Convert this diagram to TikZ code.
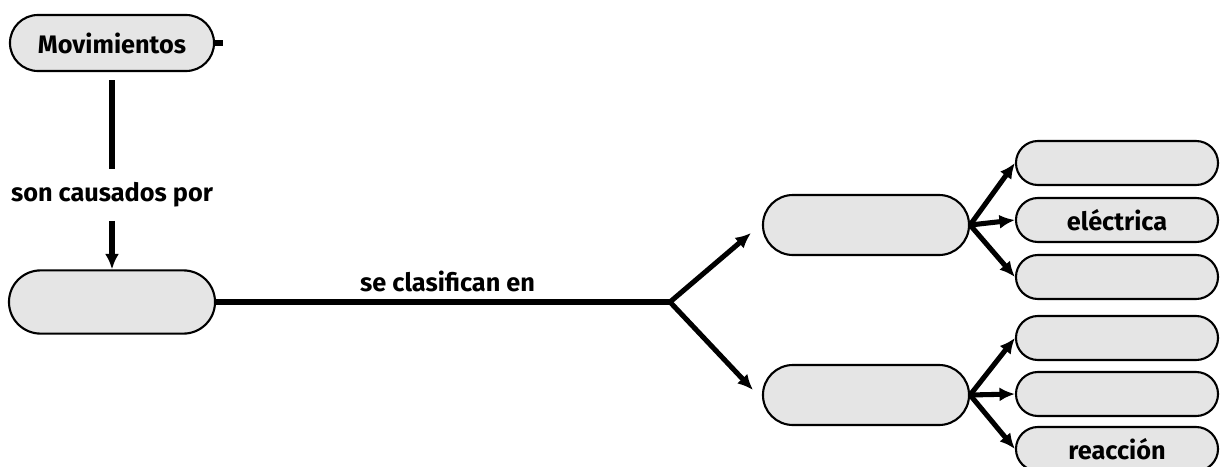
\documentclass[tikz,border=0pt]{standalone}
\usepackage{fontspec}
\setmainfont{Fira Sans}
\usetikzlibrary{arrows.meta, shapes.misc}
\tikzset{concept/.style = {shape = rounded rectangle, draw, line width = 1.5pt, fill = gray!20, inner sep = 0pt, font = \bfseries\fontsize{18}{21}\selectfont}}
\tikzset{big/.style = {minimum width = 5.15cm, minimum height = 1.5cm}}
\tikzset{small/.style = {minimum width = 5.05cm, minimum height = 1.1cm}}
\tikzset{wire/.style = {line width = 3.6pt}}
\tikzset{link/.style = {wire, -{Latex[length = 11pt, width = 10pt]}}}
\tikzset{phrase/.style = {font = \bfseries\fontsize{18}{21}\selectfont}}

\begin{document}
\begin{tikzpicture}[x = 0.025cm, y = -0.025cm]
	\useasboundingbox (0, 0) rectangle (1224, 467);

	\node[concept, minimum width = 5.1cm, minimum height = 1.4cm] (mov) at (112, 43) {Movimientos};
	\coordinate (stub) at (223, 43);
	\node[phrase] (causa) at (112, 195) {son causados por};
	\node[concept, big, minimum height = 1.58cm] (fza) at (112, 302) {};
	\coordinate (fork) at (670, 302);
	\coordinate (up) at (751, 233);
	\coordinate (down) at (753, 390);

	\node[concept, big] (ma) at (866, 225) {};
	\node[concept, big] (mb) at (866, 395) {};

	\node[concept, small] (a1) at (1117, 163) {};
	\node[concept, small] (a2) at (1117, 220) {eléctrica};
	\node[concept, small] (a3) at (1117, 277) {};
	\node[concept, small] (b1) at (1117, 338) {};
	\node[concept, small] (b2) at (1117, 394) {};
	\node[concept, small] (b3) at (1117, 449) {reacción};

	\draw[wire] (mov.east) -- (stub);
	\draw[wire, shorten <= 6pt, shorten >= 6pt] (mov.south) -- (causa.north);
	\draw[link, shorten <= 6pt] (causa.south) -- (fza.north);
	\draw[wire] (fza.east) -- node[phrase, above = 2pt, pos = 0.51] (clas) {se clasifican en} (fork);
	\draw[link] (fork) -- (up);
	\draw[link] (fork) -- (down);

	\draw[link] (ma.east) -- (a1.west);
	\draw[link] (ma.east) -- (a2.west);
	\draw[link] (ma.east) -- (a3.west);
	\draw[link] (mb.east) -- (b1.west);
	\draw[link] (mb.east) -- (b2.west);
	\draw[link] (mb.east) -- (b3.west);
\end{tikzpicture}
\end{document}
